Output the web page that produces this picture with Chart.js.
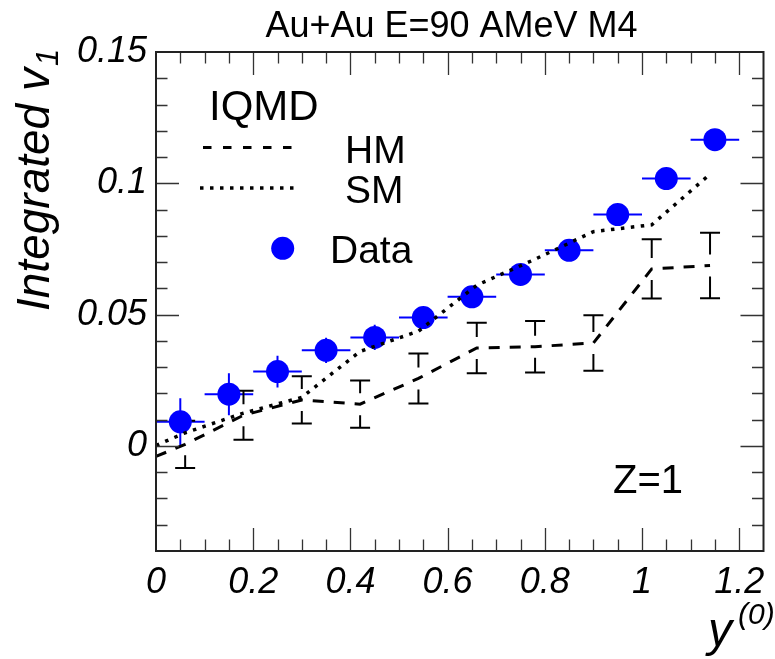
<!DOCTYPE html>
<html>
<head>
<meta charset="utf-8">
<script src="https://cdn.jsdelivr.net/npm/chart.js@4.4.1/dist/chart.umd.min.js"></script>
<style>
  html, body { margin: 0; padding: 0; background: #fff; }
  #wrap { width: 775px; height: 659px; }
</style>
</head>
<body>
<div id="wrap"><canvas id="c" width="775" height="659"></canvas></div>
<script>
// Measured integrated v1 (Z=1) per rapidity bin
const dataX    = [0.05, 0.15, 0.25, 0.35, 0.45, 0.55, 0.65, 0.75, 0.85, 0.95, 1.05, 1.15];
const dataXErr = [0.05, 0.05, 0.05, 0.05, 0.05, 0.05, 0.05, 0.05, 0.05, 0.05, 0.05, 0.05];
const dataY    = [0.0092, 0.0197, 0.0283, 0.0364, 0.0413, 0.0489, 0.0568, 0.0653, 0.0745, 0.0881, 0.1018, 0.1166];
const dataYErr = [0.009, 0.008, 0.006, 0.0048, 0.0048, 0.004, 0.003, 0.003, 0.003, 0.003, 0.003, 0.003];

// IQMD calculations (hard / soft EoS with momentum dependence)
const modelX = [0, 0.06, 0.18, 0.30, 0.42, 0.54, 0.66, 0.78, 0.90, 1.02, 1.14];
const hmY    = [-0.004, 0.0006, 0.0117, 0.0175, 0.0159, 0.0257, 0.0373, 0.0378, 0.0392, 0.0674, 0.0687];
const hmErr  = [null, 0.009, 0.0093, 0.009, 0.009, 0.0095, 0.0096, 0.0098, 0.0106, 0.0113, 0.0125];
const smY    = [0.0002, 0.005, 0.0125, 0.0185, 0.036, 0.0437, 0.0612, 0.0711, 0.0816, 0.0842, 0.1035];

// Axis ticks
const xTickValues = [0, 0.2, 0.4, 0.6, 0.8, 1, 1.2];
const xTickLabels = ['0', '0.2', '0.4', '0.6', '0.8', '1', '1.2'];
const yTickValues = [0, 0.05, 0.1, 0.15];
const yTickLabels = ['0', '0.05', '0.1', '0.15'];

const FONT = "'Liberation Sans', Arial, Helvetica, sans-serif";

// Frame with inward tick marks on all four sides
const framePlugin = {
  id: 'frame',
  afterDatasetsDraw(chart) {
    const { ctx, chartArea: a, scales: { x, y } } = chart;
    ctx.save();
    ctx.strokeStyle = '#333';
    ctx.lineWidth = 1.3;
    const majL = 23, minL = 11.5;
    // x ticks every 0.05, major every 0.2
    for (let k = 0; k <= 25; k++) {
      const v = k * 0.05;
      const px = Math.round(x.getPixelForValue(v)) + 0.5;
      if (px < a.left + 1 || px > a.right - 1) continue;
      const L = (k % 4 === 0) ? majL : minL;
      ctx.beginPath();
      ctx.moveTo(px, a.bottom); ctx.lineTo(px, a.bottom - L);
      ctx.moveTo(px, a.top); ctx.lineTo(px, a.top + L);
      ctx.stroke();
    }
    // y ticks every 0.01, major every 0.05
    for (let k = -4; k <= 15; k++) {
      const v = k * 0.01;
      const py = Math.round(y.getPixelForValue(v)) + 0.5;
      if (py < a.top + 1 || py > a.bottom - 1) continue;
      const L = (((k % 5) + 5) % 5 === 0) ? majL : minL;
      ctx.beginPath();
      ctx.moveTo(a.left, py); ctx.lineTo(a.left + L, py);
      ctx.moveTo(a.right, py); ctx.lineTo(a.right - L, py);
      ctx.stroke();
    }
    ctx.strokeStyle = '#222';
    ctx.lineWidth = 2;
    ctx.strokeRect(a.left, a.top, a.right - a.left, a.bottom - a.top);
    ctx.restore();
  }
};

// Error bars: blue crosses for data, capped black bars with a central gap for HM
const errorBarPlugin = {
  id: 'errorBars',
  beforeDatasetsDraw(chart) {
    const { ctx, scales: { x, y }, chartArea: a } = chart;
    ctx.save();
    ctx.beginPath();
    ctx.rect(a.left, a.top, a.right - a.left, a.bottom - a.top);
    ctx.clip();
    // data
    ctx.strokeStyle = '#0000ff';
    ctx.lineWidth = 2;
    dataX.forEach((xv, i) => {
      const cx = x.getPixelForValue(xv), cy = y.getPixelForValue(dataY[i]);
      ctx.beginPath();
      ctx.moveTo(x.getPixelForValue(xv - dataXErr[i]), cy);
      ctx.lineTo(x.getPixelForValue(xv + dataXErr[i]), cy);
      ctx.moveTo(cx, y.getPixelForValue(dataY[i] + dataYErr[i]));
      ctx.lineTo(cx, y.getPixelForValue(dataY[i] - dataYErr[i]));
      ctx.stroke();
    });
    // HM
    ctx.strokeStyle = '#000';
    ctx.lineWidth = 2;
    const gap = 11, cap = 10;
    modelX.forEach((xv, i) => {
      if (hmErr[i] == null) return;
      const cx = x.getPixelForValue(xv), cy = y.getPixelForValue(hmY[i]);
      const top = y.getPixelForValue(hmY[i] + hmErr[i]);
      const bot = y.getPixelForValue(hmY[i] - hmErr[i]);
      ctx.beginPath();
      ctx.moveTo(cx, top); ctx.lineTo(cx, Math.min(cy - gap, bot));
      ctx.moveTo(cx, bot); ctx.lineTo(cx, Math.max(cy + gap, top));
      ctx.moveTo(cx - cap, top); ctx.lineTo(cx + cap, top);
      ctx.moveTo(cx - cap, bot); ctx.lineTo(cx + cap, bot);
      ctx.stroke();
    });
    ctx.restore();
  }
};

// Title, axis titles, legend and annotation
const textPlugin = {
  id: 'texts',
  afterDraw(chart) {
    const { ctx } = chart;
    ctx.save();
    ctx.fillStyle = '#000';
    ctx.textBaseline = 'alphabetic';

    // title
    ctx.font = `normal 36px ${FONT}`;
    ctx.textAlign = 'center';
    ctx.fillText('Au+Au E=90 AMeV M4', 451.5, 37);

    // y axis title with subscript
    ctx.save();
    ctx.translate(49, 311);
    ctx.rotate(-Math.PI / 2);
    ctx.textAlign = 'left';
    ctx.font = `italic 46px ${FONT}`;
    const main = 'Integrated v';
    ctx.fillText(main, 0, 0);
    const w = ctx.measureText(main).width;
    ctx.font = `italic 31px ${FONT}`;
    ctx.fillText('1', w + 2, 9);
    ctx.restore();

    // x axis title with superscript
    ctx.textAlign = 'left';
    ctx.font = `italic 48px ${FONT}`;
    ctx.fillText('y', 708, 646);
    ctx.font = `italic 30px ${FONT}`;
    ctx.fillText('(0)', 738, 624);

    // legend
    ctx.font = `normal 42px ${FONT}`;
    ctx.fillText('IQMD', 209, 120);
    ctx.font = `normal 39px ${FONT}`;
    ctx.fillText('HM', 345, 163);
    ctx.fillText('SM', 345, 203);
    ctx.fillText('Data', 330, 263);

    ctx.strokeStyle = '#000';
    ctx.lineWidth = 3;
    ctx.setLineDash([8.5, 11.5]);
    ctx.beginPath(); ctx.moveTo(203, 147.5); ctx.lineTo(300, 147.5); ctx.stroke();
    ctx.lineWidth = 3.5;
    ctx.setLineDash([3.5, 6.5]);
    ctx.beginPath(); ctx.moveTo(200, 188); ctx.lineTo(300, 188); ctx.stroke();
    ctx.setLineDash([]);

    ctx.fillStyle = '#0000ff';
    ctx.beginPath(); ctx.arc(282.7, 248.3, 11.5, 0, Math.PI * 2); ctx.fill();

    // annotation
    ctx.fillStyle = '#000';
    ctx.font = `normal 40px ${FONT}`;
    ctx.fillText('Z=1', 613, 493);
    ctx.restore();
  }
};

const tickFont = { family: FONT, size: 36, style: 'italic' };

new Chart(document.getElementById('c').getContext('2d'), {
  type: 'scatter',
  data: {
    datasets: [
      {
        label: 'HM', type: 'line',
        data: modelX.map((xv, i) => ({ x: xv, y: hmY[i] })),
        borderColor: '#000', borderWidth: 3, borderDash: [11, 10],
        pointRadius: 0, fill: false, tension: 0
      },
      {
        label: 'SM', type: 'line',
        data: modelX.map((xv, i) => ({ x: xv, y: smY[i] })),
        borderColor: '#000', borderWidth: 3.5, borderDash: [3.5, 6.5],
        pointRadius: 0, fill: false, tension: 0
      },
      {
        label: 'Data',
        data: dataX.map((xv, i) => ({ x: xv, y: dataY[i] })),
        backgroundColor: '#0000ff', borderWidth: 0, pointRadius: 11.5
      }
    ]
  },
  options: {
    responsive: false,
    animation: false,
    devicePixelRatio: 1,
    layout: { padding: { top: 52, right: 5, left: 0, bottom: 0 } },
    plugins: { legend: { display: false }, tooltip: { enabled: false }, title: { display: false } },
    scales: {
      x: {
        type: 'linear', min: 0, max: 1.25,
        grid: { display: false, drawTicks: false },
        border: { display: false },
        afterBuildTicks: s => { s.ticks = xTickValues.map(v => ({ value: v })); },
        afterFit: s => { s.height = 108; },
        ticks: {
          callback: (v, i) => xTickLabels[i],
          font: tickFont, color: '#000', padding: 10,
          maxRotation: 0, minRotation: 0, autoSkip: false
        }
      },
      y: {
        type: 'linear', min: -0.04, max: 0.15,
        grid: { display: false, drawTicks: false },
        border: { display: false },
        afterBuildTicks: s => { s.ticks = yTickValues.map(v => ({ value: v })); },
        afterFit: s => { s.width = 156; },
        ticks: {
          callback: (v, i) => yTickLabels[i],
          font: tickFont, color: '#000', padding: 9, autoSkip: false
        }
      }
    }
  },
  plugins: [errorBarPlugin, framePlugin, textPlugin]
});
</script>
</body>
</html>
